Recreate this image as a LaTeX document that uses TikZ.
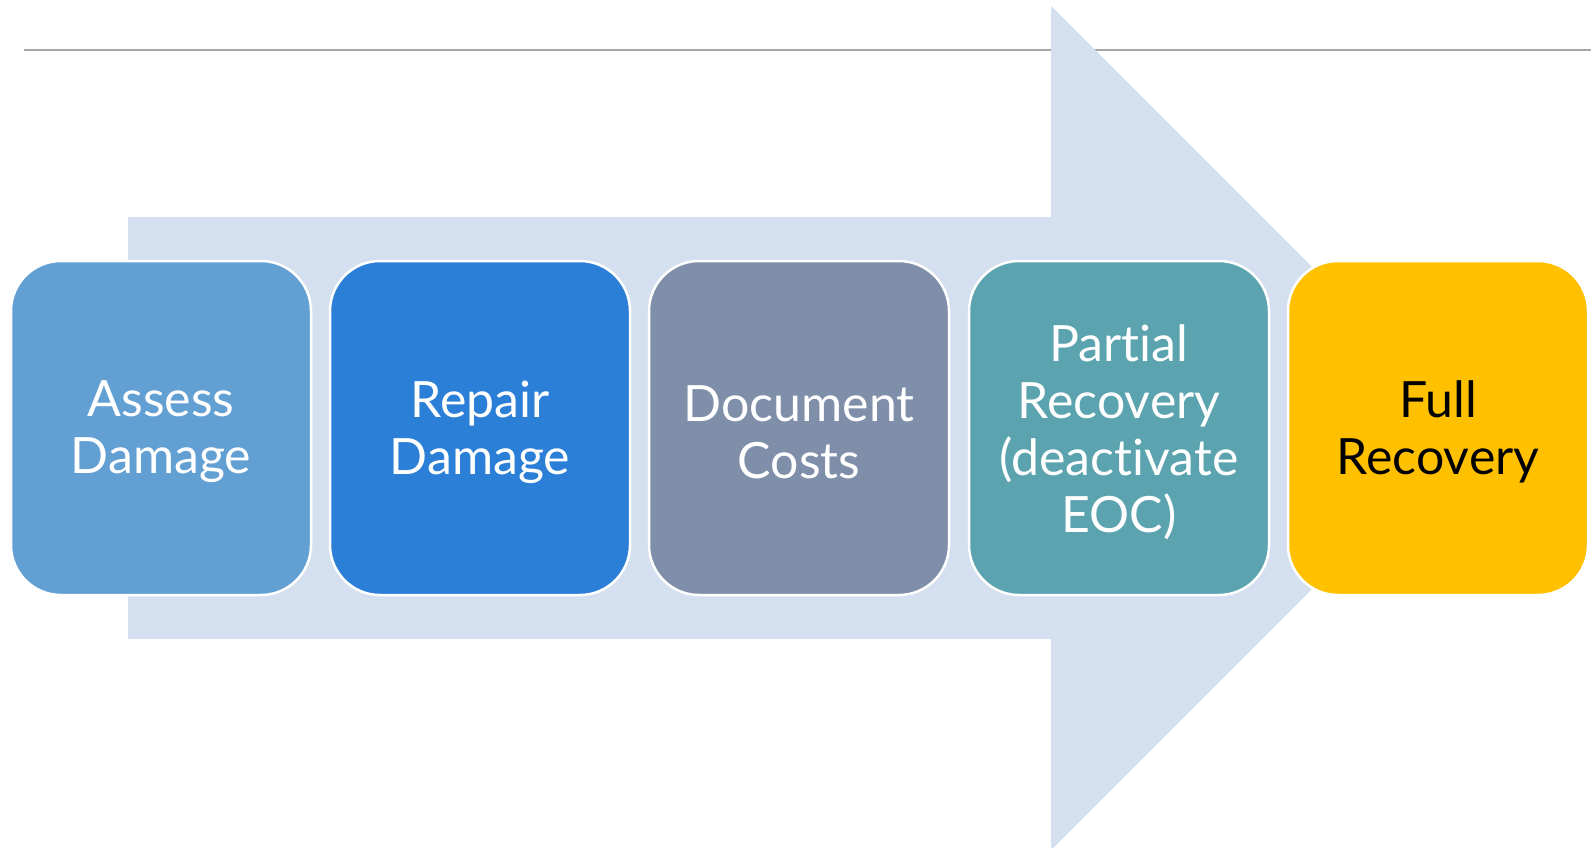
\documentclass[tikz,border=0pt]{standalone}
\usepackage{fontspec}
\setmainfont[Ligatures=NoCommon]{Lato}
\definecolor{arrowfill}{HTML}{D4E0EF}
\definecolor{rulegray}{HTML}{A6A6A6}
\definecolor{cA}{HTML}{629FD3}
\definecolor{cB}{HTML}{2B7FD7}
\definecolor{cC}{HTML}{7F8FA9}
\definecolor{cD}{HTML}{5BA3AF}
\definecolor{cE}{HTML}{FFC000}
\begin{document}
\begin{tikzpicture}[x=1pt,y=-1pt,
  stepbox/.style={draw=white, line width=2.5pt, rounded corners=50pt,
    minimum width=300pt, minimum height=334pt, inner sep=0pt},
  steptext/.style={align=center, text=white, inner sep=0pt, yshift=-4pt,
    font=\fontsize{50}{57}\selectfont}]
\useasboundingbox (0,0) rectangle (1591,848);
\coordinate (ls) at (24,50);
\coordinate (le) at (1591,50);
\draw[rulegray, line width=2pt] (ls) -- (le);
\fill[arrowfill] (128,217) -- (1051,217) -- (1051,6) -- (1473,428) -- (1051,850) -- (1051,639) -- (128,639) -- cycle;
\node[stepbox, fill=cA] (n1) at (161,428) {};
\node[stepbox, fill=cB] (n2) at (480,428) {};
\node[stepbox, fill=cC] (n3) at (799,428) {};
\node[stepbox, fill=cD] (n4) at (1119,428) {};
\node[stepbox, fill=cE] (n5) at (1438,428) {};
\node[steptext] (t1) at (n1.center) {Assess\\Damage};
\node[steptext] (t2) at (n2.center) {Repair\\Damage};
\node[steptext] (t3) at (n3.center) {Document\\Costs};
\node[steptext] (t4) at (n4.center) {Partial\\Recovery\\(deactivate\\EOC)};
\node[steptext, text=black] (t5) at (n5.center) {Full\\Recovery};
\end{tikzpicture}
\end{document}
